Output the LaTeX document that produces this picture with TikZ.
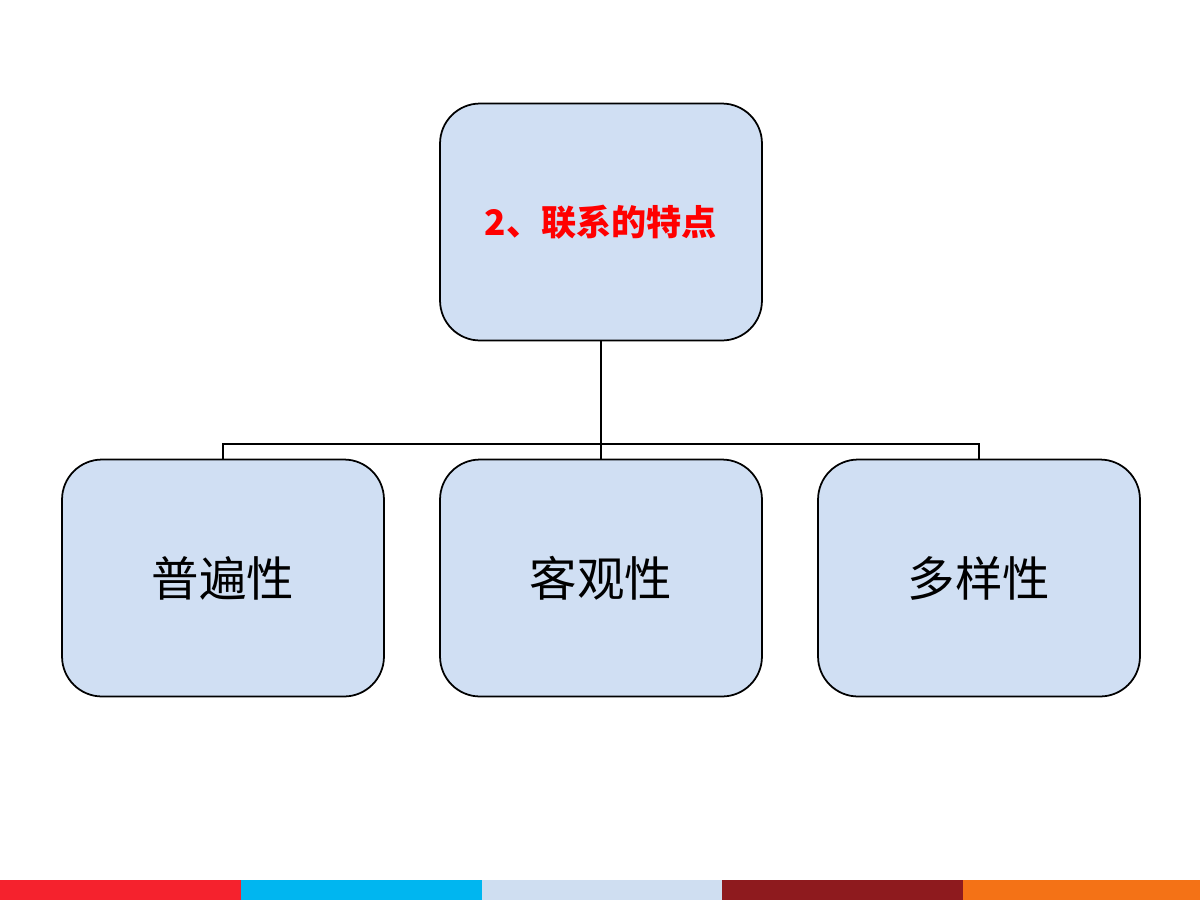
\documentclass[tikz,border=0pt]{standalone}
\usepackage{fontspec}
\setmainfont{Liberation Sans}
\newfontfamily\cjk{Noto Sans CJK SC}
\definecolor{boxfill}{HTML}{D0DFF3}
\definecolor{barred}{HTML}{F5222D}
\definecolor{barcyan}{HTML}{00B6F0}
\definecolor{barlight}{HTML}{CFDEF1}
\definecolor{bardark}{HTML}{8E1A1E}
\definecolor{barorange}{HTML}{F47216}
\tikzset{
  box/.style={draw=black, line width=1pt, fill=boxfill, rounded corners=0.8cm,
    minimum width=6.44cm, minimum height=4.74cm, inner sep=0pt},
  link/.style={line width=1.6pt}
}
\begin{document}
\begin{tikzpicture}[x=0.02cm,y=-0.02cm]
\useasboundingbox (0,0) rectangle (1200,900);
% top box
\node [box] (top) at (601,222) {\cjk\fontsize{20}{24}\selectfont\bfseries\color{red}2、联系的特点};
% children
\node [box] (pu) at (223,578) {\cjk\fontsize{27}{32}\selectfont 普遍性};
\node [box] (ke) at (601,578) {\cjk\fontsize{27}{32}\selectfont 客观性};
\node [box] (duo) at (979,578) {\cjk\fontsize{27}{32}\selectfont 多样性};
% connectors
\coordinate (fork) at (601,444);
\draw [link] (top.south) -- (fork);
\draw [link] (pu.north) |- (fork) -| (duo.north);
\draw [link] (fork) -- (ke.north);
% bottom bar
\fill [barred] (0,880) rectangle (241,900);
\fill [barcyan] (241,880) rectangle (482,900);
\fill [barlight] (482,880) rectangle (722,900);
\fill [bardark] (722,880) rectangle (963,900);
\fill [barorange] (963,880) rectangle (1200,900);
\end{tikzpicture}
\end{document}
